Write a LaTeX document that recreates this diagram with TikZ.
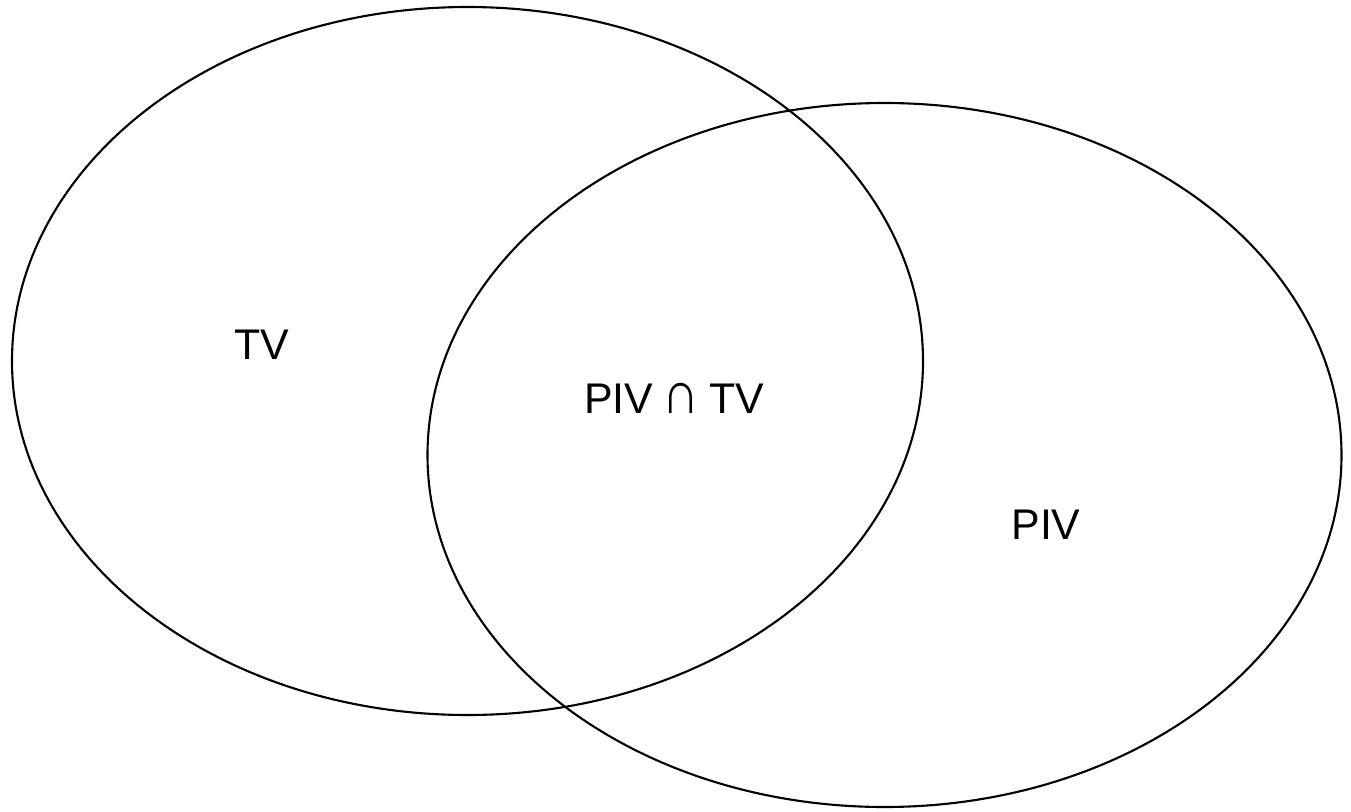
\documentclass[tikz,border=0pt]{standalone}
\usepackage{graphicx}
\usepackage{fontspec}
\setmainfont{Liberation Sans}
\begin{document}
\begin{tikzpicture}[line width=0.6pt,every node/.style={font=\fontsize{12.2}{14}\selectfont}]
\useasboundingbox(0,0)rectangle(13.51,-8.11);
\draw(4.675,-3.61)ellipse[x radius=4.555,y radius=3.54];
\draw(8.845,-4.55)ellipse[x radius=4.57,y radius=3.52];
\node(tv)at(2.62,-3.45){TV};
\node(both)at(6.74,-3.98){PIV\hspace{0.15cm}\makebox[0.26cm]{\scalebox{1.2}[1.4]{∩}}\hspace{0.15cm}TV};
\node(piv)at(10.46,-5.245){PIV};
\end{tikzpicture}
\end{document}
